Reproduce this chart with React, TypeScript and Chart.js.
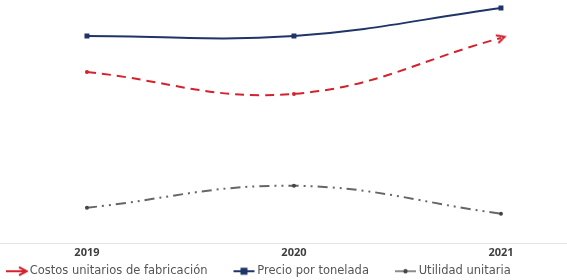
import React, { useEffect, useRef } from "react";
import { Chart, registerables } from "chart.js";

Chart.register(...registerables);

const years = [2019, 2020, 2021];
const seriesNames = ["Costos unitarios de fabricación", "Precio por tonelada", "Utilidad unitaria"];
const costos = [860, 750, 1030];
const precio = [1040, 1040, 1180];
const utilidad = [180, 290, 150];

const RED = "#d3222e";
const NAVY = "#1f3468";
const GRAY = "#666666";

function makeCanvas(w: number, h: number, draw: (c: CanvasRenderingContext2D) => void) {
  const cv = document.createElement("canvas");
  cv.width = w;
  cv.height = h;
  const c = cv.getContext("2d")!;
  draw(c);
  return cv;
}

function chevron(color: string) {
  return makeCanvas(12, 12, (c) => {
    c.strokeStyle = color;
    c.lineWidth = 2;
    c.beginPath();
    c.moveTo(2, 2);
    c.lineTo(10, 6);
    c.lineTo(2, 10);
    c.stroke();
  });
}

function legendImg(kind: number) {
  return makeCanvas(48, 12, (c) => {
    const x0 = 26, x1 = 47, y = 6;
    if (kind === 0) {
      c.strokeStyle = RED;
      c.lineWidth = 2;
      c.beginPath();
      c.moveTo(x0, y);
      c.lineTo(x1 - 2, y);
      c.stroke();
      c.beginPath();
      c.moveTo(x1 - 8, y - 4);
      c.lineTo(x1, y);
      c.lineTo(x1 - 8, y + 4);
      c.stroke();
    } else if (kind === 1) {
      c.strokeStyle = NAVY;
      c.lineWidth = 2;
      c.beginPath();
      c.moveTo(x0, y);
      c.lineTo(x1, y);
      c.stroke();
      c.fillStyle = NAVY;
      c.fillRect((x0 + x1) / 2 - 3.5, y - 3.5, 7, 7);
    } else {
      c.strokeStyle = GRAY;
      c.lineWidth = 1.5;
      c.beginPath();
      c.moveTo(x0, y);
      c.lineTo(x1, y);
      c.stroke();
      c.fillStyle = "#444";
      c.beginPath();
      c.arc((x0 + x1) / 2, y, 2.2, 0, Math.PI * 2);
      c.fill();
    }
  });
}

export default function App() {
  const ref = useRef<HTMLCanvasElement>(null);
  useEffect(() => {
    document.body.style.margin = "0";
    const arrow = chevron(RED);
    const legendImgs = [legendImg(0), legendImg(1), legendImg(2)];
    const toXY = (arr: number[]) => arr.map((v, i) => ({ x: years[i], y: v }));
    const chart = new Chart(ref.current!, {
      type: "line",
      data: {
        datasets: [
          {
            label: seriesNames[0],
            data: toXY(costos),
            borderColor: RED,
            backgroundColor: RED,
            borderWidth: 2,
            borderDash: [9, 6],
            tension: 0.4,
            pointStyle: ["circle", "circle", arrow] as any,
            pointRadius: [2, 2, 5],
            pointRotation: [0, 0, -18],
            pointBorderWidth: 0,
          },
          {
            label: seriesNames[1],
            data: toXY(precio),
            borderColor: NAVY,
            backgroundColor: NAVY,
            borderWidth: 2,
            tension: 0.4,
            pointStyle: "rect",
            pointRadius: 3.5,
            pointBorderWidth: 0,
          },
          {
            label: seriesNames[2],
            data: toXY(utilidad),
            borderColor: GRAY,
            backgroundColor: "#444",
            borderWidth: 2,
            borderDash: [10, 5, 2, 5, 2, 5],
            tension: 0.4,
            pointStyle: "circle",
            pointRadius: 2,
            pointBorderWidth: 0,
          },
        ],
      },
      options: {
        animation: false,
        responsive: false,
        layout: { autoPadding: false, padding: { left: -20, right: 0, top: 0, bottom: -7 } },
        scales: {
          x: {
            type: "linear",
            min: 2018.58,
            max: 2021.319,
            grid: { display: false, drawTicks: false },
            border: { display: true, color: "#e3e3e3", width: 1 },
            ticks: {
              stepSize: 1,
              includeBounds: false,
              padding: 2.3,
              color: "#3f3f3f",
              font: { family: "'Open Sans'", size: 11, weight: "bold" },
              callback: (v: any) => String(v),
            },
          },
          y: {
            display: false,
            min: 0,
            max: 1220,
          },
        },
        plugins: {
          tooltip: { enabled: false },
          legend: {
            position: "bottom",
            align: "start",
            labels: {
              usePointStyle: true,
              pointStyleWidth: 40,
              padding: 4,
              color: "#555555",
              font: { family: "'DejaVu Sans'", size: 11.5 },
              generateLabels: (ch: any) =>
                Chart.defaults.plugins.legend.labels
                  .generateLabels(ch)
                  .map((l: any, i: number) => ({ ...l, pointStyle: legendImgs[i] })),
            },
          },
        },
      },
    });
    return () => chart.destroy();
  }, []);
  return <canvas ref={ref} width={567} height={280} style={{ display: "block" }} />;
}
